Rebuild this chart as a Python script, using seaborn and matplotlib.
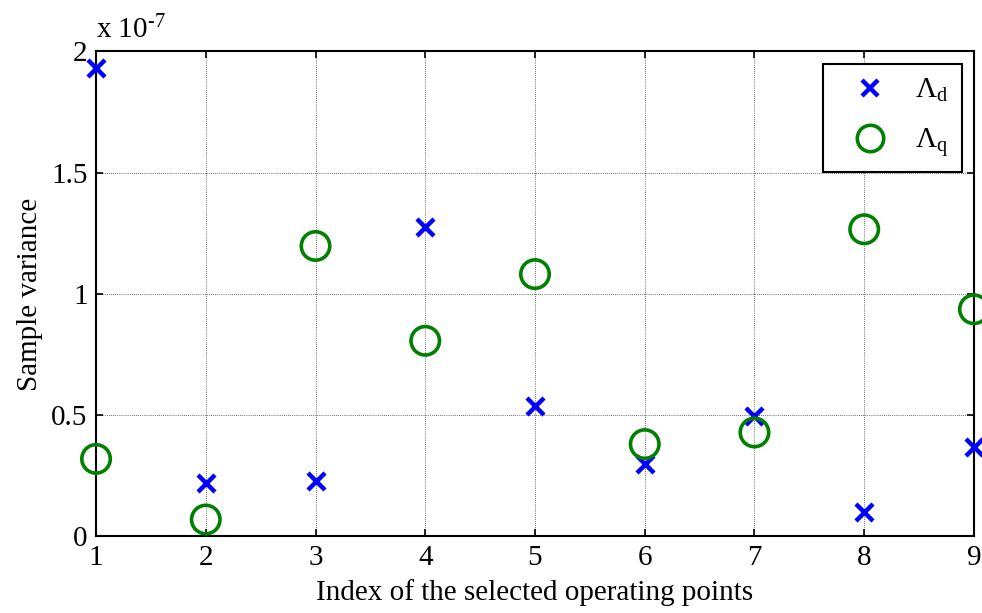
import numpy as np
import pandas as pd
import matplotlib
matplotlib.use("Agg")
import matplotlib.pyplot as plt
from matplotlib.ticker import FuncFormatter
from matplotlib.lines import Line2D
import seaborn as sns

# Sample variance per operating point, in units of 1e-7
index = [1, 2, 3, 4, 5, 6, 7, 8, 9]
lambda_d = [1.93, 0.22, 0.228, 1.276, 0.538, 0.30, 0.497, 0.10, 0.37]
lambda_q = [0.32, 0.07, 1.198, 0.807, 1.082, 0.381, 0.429, 1.267, 0.937]

x_ticks = [1, 2, 3, 4, 5, 6, 7, 8, 9]
y_ticks = [0, 0.5, 1, 1.5, 2]

sns.set_theme(style="white")
plt.rcParams["font.family"] = ["Liberation Serif", "DejaVu Serif"]
plt.rcParams["mathtext.fontset"] = "custom"
plt.rcParams["mathtext.rm"] = "Liberation Serif"
plt.rcParams["mathtext.it"] = "Liberation Serif:italic"
plt.rcParams["text.color"] = "black"
plt.rcParams["axes.labelcolor"] = "black"

FS = 21

df_d = pd.DataFrame({"idx": index, "var": lambda_d})
df_q = pd.DataFrame({"idx": index, "var": lambda_q})

fig = plt.figure(figsize=(9.82, 6.13), dpi=100)
ax = fig.add_axes([0.0978, 0.1248, 0.894, 0.7912])

blue = (0, 0, 1)
green = (0, 0.5, 0)

sns.scatterplot(data=df_d, x="idx", y="var", ax=ax, marker="x", color=blue,
                s=150, linewidth=3.2, zorder=3, clip_on=False)
sns.scatterplot(data=df_q, x="idx", y="var", ax=ax, marker="o", color=green,
                facecolors="none", edgecolor=green, s=420, linewidth=2.6,
                zorder=3, clip_on=False)

ax.set_xlim(1, 9)
ax.set_ylim(0, 2)
ax.set_xticks(x_ticks)
ax.set_yticks(y_ticks)
ax.yaxis.set_major_formatter(FuncFormatter(lambda v, p: f"{v:g}"))

ax.grid(True, color="black", linestyle=(0, (1, 1.5)), linewidth=0.6, alpha=0.75)
ax.set_axisbelow(True)
for side in ax.spines.values():
    side.set_color("black")
    side.set_linewidth(1.5)
    side.set_visible(True)

ax.tick_params(axis="both", which="both", direction="in", length=5, width=1.2,
               top=True, right=True, bottom=True, left=True,
               labelsize=FS, colors="black", pad=6)
ax.set_xlabel("Index of the selected operating points", fontsize=FS, labelpad=6)
ax.set_ylabel("Sample variance", fontsize=FS, labelpad=6)

ax.text(0.0, 1.015, r"x 10$^{\text{-7}}$", transform=ax.transAxes, fontsize=FS,
        ha="left", va="bottom")

handles = [
    Line2D([], [], linestyle="none", marker="x", color=blue, markersize=11,
           markeredgewidth=3.2),
    Line2D([], [], linestyle="none", marker="o", markerfacecolor="none",
           markeredgecolor=green, markersize=19, markeredgewidth=2.6),
]
leg = ax.legend(handles, [r"$\Lambda_{\rm d}$", r"$\Lambda_{\rm q}$"],
                loc="upper right", bbox_to_anchor=(0.986, 0.974),
                borderaxespad=0, fontsize=FS, frameon=True, fancybox=False,
                edgecolor="black", framealpha=1, labelspacing=0.75,
                handlelength=2.3, handletextpad=0.4, borderpad=0.45)
leg.get_frame().set_linewidth(1.5)

fig.savefig("out.png", dpi=100, facecolor="white")
